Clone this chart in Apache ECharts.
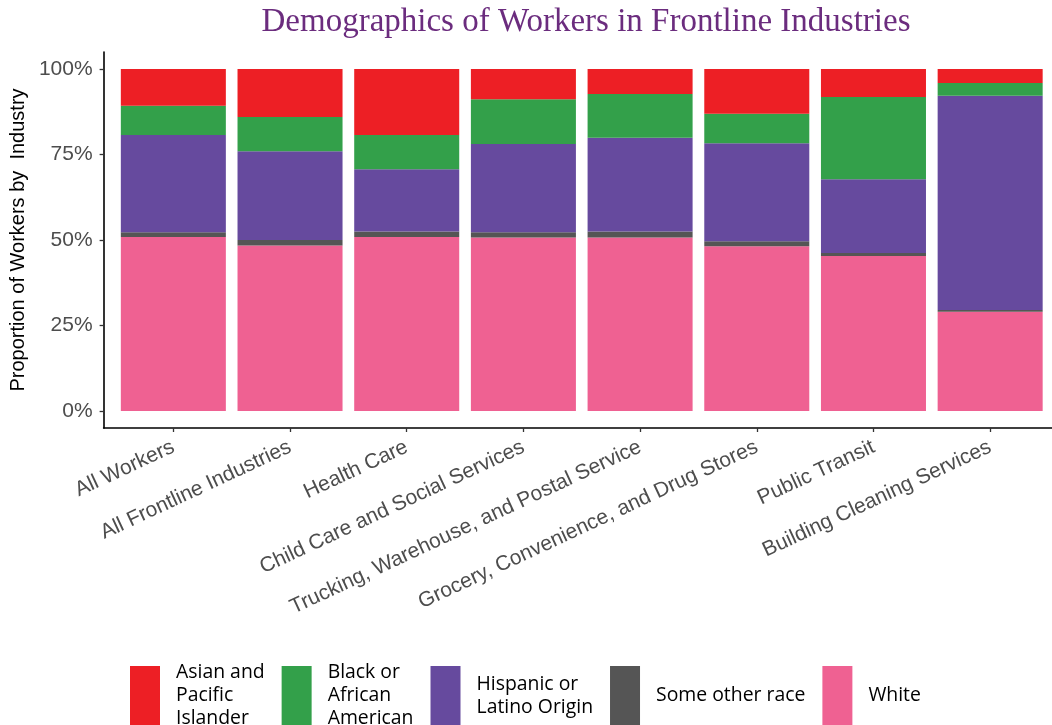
<!DOCTYPE html>
<html>
<head>
<meta charset="utf-8">
<script src="https://cdn.jsdelivr.net/npm/echarts@6/dist/echarts.min.js"></script>
<style>html,body{margin:0;padding:0;background:#fff;}#c{width:1052px;height:725px;}</style>
</head>
<body>
<div id="c"></div>
<script>
var categories = ['All Workers','All Frontline Industries','Health Care','Child Care and Social Services','Trucking, Warehouse, and Postal Service','Grocery, Convenience, and Drug Stores','Public Transit','Building Cleaning Services'];
var white    = [50.9, 48.4, 50.9, 50.7, 50.7, 48.2, 45.3, 29.0];
var other    = [1.4, 1.6, 1.6, 1.6, 1.8, 1.4, 0.9, 0.5];
var hispanic = [28.4, 26.0, 18.2, 25.8, 27.4, 28.7, 21.6, 62.7];
var black    = [8.6, 10.0, 10.0, 13.1, 12.8, 8.6, 24.0, 3.7];
var asian    = [10.7, 14.0, 19.3, 8.8, 7.3, 13.1, 8.2, 4.1];
var yTicks   = [0, 25, 50, 75, 100];
var seriesNames = ['Asian and\nPacific\nIslander','Black or\nAfrican\nAmerican','Hispanic or\nLatino Origin','Some other race','White'];

var colors = {
  'White':'#EF6192',
  'Some other race':'#555555',
  'Hispanic or\nLatino Origin':'#664A9E',
  'Black or\nAfrican\nAmerican':'#33A04A',
  'Asian and\nPacific\nIslander':'#ED1F25'
};
function mk(name, data){
  return {name:name, type:'bar', stack:'all', xAxisIndex:1, yAxisIndex:1,
    data:data, barCategoryGap:'10%', itemStyle:{color:colors[name]}, emphasis:{disabled:true}};
}
var chart = echarts.init(document.getElementById('c'));
chart.setOption({
  animation:false,
  title:{text:'Demographics of Workers in Frontline Industries', left:581, top:1, textAlign:'center',
    textStyle:{fontFamily:'Liberation Serif', fontSize:33, fontWeight:'normal', color:'#6B2C7E'}},
  grid:[
    {left:103, right:0, top:52, bottom:297},
    {left:115, right:3.5, top:52, bottom:297}
  ],
  xAxis:[
    {type:'value', gridIndex:0, min:0, max:1, axisLine:{show:true, onZero:false, lineStyle:{color:'#000', width:1.6}},
     axisTick:{show:false}, axisLabel:{show:false}, splitLine:{show:false}},
    {type:'category', gridIndex:1, data:categories,
     axisLine:{show:false, onZero:false},
     axisTick:{show:true, alignWithLabel:true, length:4, lineStyle:{color:'#333', width:1.3}},
     axisLabel:{rotate:25, interval:0, margin:18, fontFamily:'Liberation Sans', fontSize:21, color:'#4d4d4d'}}
  ],
  yAxis:[
    {type:'value', gridIndex:0, min:-5, max:105,
     name:'Proportion of Workers by  Industry', nameLocation:'middle', nameGap:74,
     nameTextStyle:{fontFamily:'Liberation Sans', fontSize:20, color:'#000'},
     axisLine:{show:true, lineStyle:{color:'#000', width:1.6}},
     axisTick:{show:true, length:4, customValues:yTicks, lineStyle:{color:'#333', width:1.3}},
     axisLabel:{customValues:yTicks, formatter:'{value}%', margin:11, fontFamily:'Liberation Sans', fontSize:21, color:'#4d4d4d'},
     splitLine:{show:false}},
    {type:'value', gridIndex:1, min:-5, max:105, show:false, splitLine:{show:false}}
  ],
  legend:{
    data:seriesNames, left:125, top:656, itemWidth:30, itemHeight:59, itemGap:17,
    icon:'rect', selectedMode:false,
    textStyle:{fontFamily:'Open Sans', fontSize:19.4, color:'#000', lineHeight:23, padding:[0,0,0,11]}
  },
  series:[
    mk('White', white),
    mk('Some other race', other),
    mk('Hispanic or\nLatino Origin', hispanic),
    mk('Black or\nAfrican\nAmerican', black),
    mk('Asian and\nPacific\nIslander', asian)
  ]
});
</script>
</body>
</html>
